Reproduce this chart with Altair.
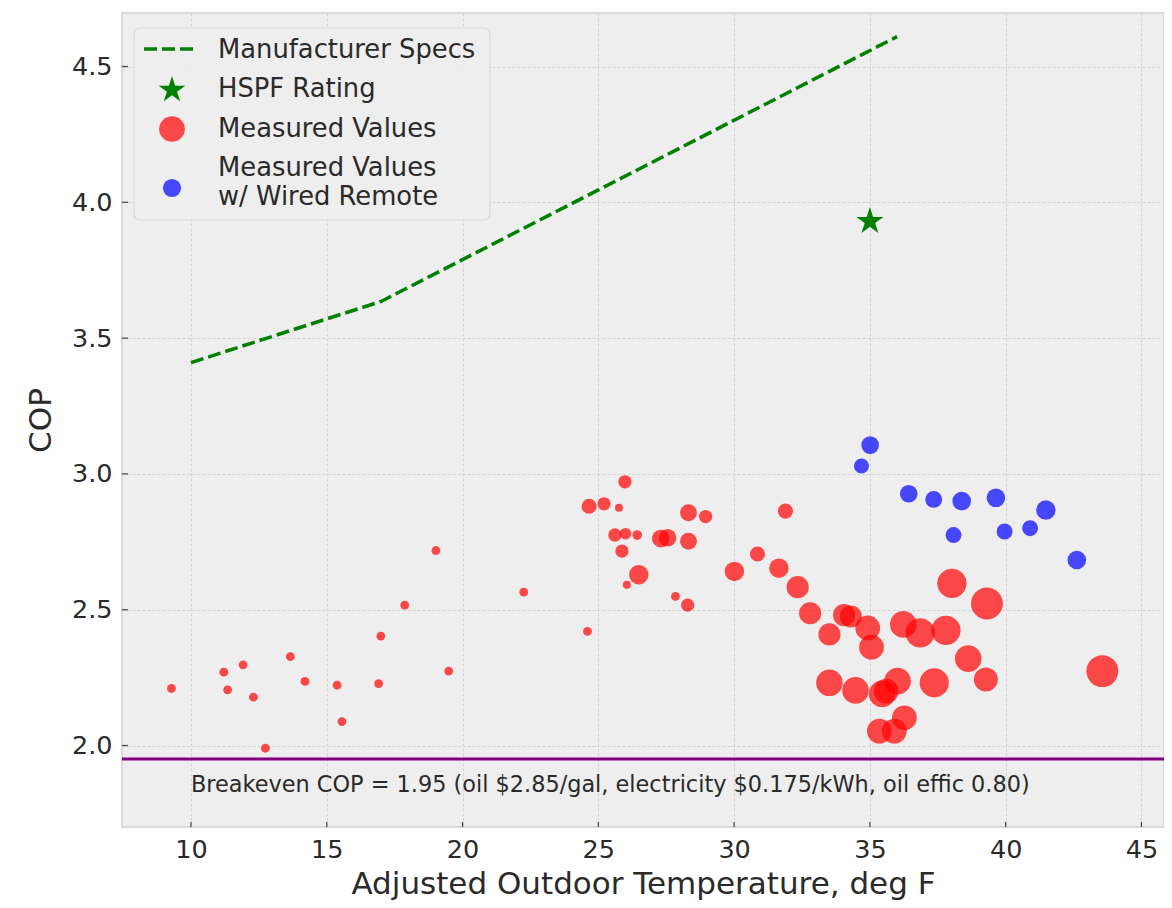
import altair as alt
import pandas as pd

# ---------------- data ----------------
spec_temp = [10, 17, 36]
spec_cop = [3.41, 3.635, 4.61]

hspf_temp = [35.0]
hspf_cop = [3.93]

red_temp = [9.28, 11.21, 11.35, 11.92, 12.30, 12.74, 13.66, 14.20, 15.38, 15.56,
            16.91, 16.99, 17.87, 19.49, 19.02, 22.25, 24.60,
            25.98, 24.66, 25.21, 25.76, 25.61, 26.00, 26.43, 25.87, 26.49, 26.05,
            27.30, 27.55, 28.32, 28.95, 28.32, 27.84, 28.29, 31.89, 30.01, 30.86,
            31.65, 32.34, 32.80, 33.51, 34.05, 34.30, 34.92, 35.06, 36.23, 36.85,
            37.80, 38.02, 39.31, 38.62, 39.27, 33.51, 34.47, 35.45, 35.60, 36.02,
            37.37, 36.27, 35.35, 35.90, 43.56]
red_cop = [2.21, 2.27, 2.205, 2.297, 2.178, 1.99, 2.327, 2.236, 2.222, 2.088,
           2.228, 2.403, 2.517, 2.274, 2.718, 2.565, 2.42,
           2.971, 2.881, 2.89, 2.875, 2.775, 2.78, 2.775, 2.716, 2.629, 2.592,
           2.762, 2.765, 2.857, 2.843, 2.752, 2.549, 2.517, 2.863, 2.641, 2.705,
           2.653, 2.583, 2.487, 2.409, 2.48, 2.475, 2.433, 2.362, 2.446, 2.415,
           2.424, 2.597, 2.523, 2.320, 2.243, 2.231, 2.203, 2.19, 2.20, 2.237,
           2.231, 2.102, 2.053, 2.053, 2.274]
red_size = [78, 78, 78, 78, 78, 78, 78, 78, 78, 78,
            78, 78, 78, 78, 78, 78, 78,
            177, 227, 177, 64, 177, 133, 95, 177, 380, 64,
            314, 314, 284, 177, 284, 78, 177, 227, 380, 227,
            380, 491, 491, 491, 491, 491, 616, 616, 707, 855,
            855, 855, 1018, 707, 573, 707, 707, 707, 616, 707,
            855, 616, 616, 616, 1018]

blue_temp = [35.01, 34.69, 36.43, 37.35, 38.38, 39.64, 41.48, 38.08, 39.96, 40.90, 42.62]
blue_cop = [3.106, 3.029, 2.927, 2.906, 2.90, 2.912, 2.867, 2.775, 2.788, 2.80, 2.683]
blue_size = [314, 227, 314, 284, 346, 346, 380, 254, 254, 254, 346]

breakeven_cop = [1.95]
note_temp = [10]
note_cop = [1.83]
note_text = ["Breakeven COP = 1.95 (oil $2.85/gal, electricity $0.175/kWh, oil effic 0.80)"]

x_ticks = [10, 15, 20, 25, 30, 35, 40, 45]
y_ticks = [2.0, 2.5, 3.0, 3.5, 4.0, 4.5]

legend_labels = ["Manufacturer Specs", "HSPF Rating", "Measured Values",
                 "Measured Values", "w/ Wired Remote"]

# ---------------- styling ----------------
W, H = 1042, 814
FONT = "DejaVu Sans"
TXT = "#2a2a2a"
STAR = ("M0,-1L0.2245,-0.309L0.951,-0.309L0.363,0.118L0.588,0.809L0,0.382"
        "L-0.588,0.809L-0.363,0.118L-0.951,-0.309L-0.2245,-0.309Z")

xs = alt.Scale(domain=[7.46, 45.83], nice=False, zero=False)
ys = alt.Scale(domain=[1.70, 4.697], nice=False, zero=False)
xa = alt.Axis(title="Adjusted Outdoor Temperature, deg F", values=x_ticks, format="d")
ya = alt.Axis(title="COP", values=y_ticks, format=".1f")


def X(f):
    return alt.X(f, type="quantitative", scale=xs, axis=xa)


def Y(f):
    return alt.Y(f, type="quantitative", scale=ys, axis=ya)


spec_df = pd.DataFrame({"t": spec_temp, "cop": spec_cop})
hspf_df = pd.DataFrame({"t": hspf_temp, "cop": hspf_cop})
red_df = pd.DataFrame({"t": red_temp, "cop": red_cop, "s": red_size})
blue_df = pd.DataFrame({"t": blue_temp, "cop": blue_cop, "s": blue_size})
be_df = pd.DataFrame({"cop": breakeven_cop})
note_df = pd.DataFrame({"t": note_temp, "cop": note_cop, "txt": note_text})
xt_df = pd.DataFrame({"t": x_ticks})
yt_df = pd.DataFrame({"cop": y_ticks})
one = pd.DataFrame({"a": [0]})

spec = alt.Chart(spec_df).mark_line(color="green", strokeWidth=3.5, strokeDash=[13, 5]).encode(
    x=X("t"), y=Y("cop"))
be = alt.Chart(be_df).mark_rule(color="purple", strokeWidth=3).encode(y=Y("cop"))
red = alt.Chart(red_df).mark_circle(color="red", opacity=0.7).encode(
    x=X("t"), y=Y("cop"), size=alt.Size("s:Q", scale=None))
blue = alt.Chart(blue_df).mark_circle(color="blue", opacity=0.7).encode(
    x=X("t"), y=Y("cop"), size=alt.Size("s:Q", scale=None))
star = alt.Chart(hspf_df).mark_point(shape=STAR, filled=True, color="green", opacity=1, size=820).encode(
    x=X("t"), y=Y("cop"))
note = alt.Chart(note_df).mark_text(align="left", baseline="alphabetic", font=FONT,
                                    fontSize=22.4, color=TXT).encode(
    x=X("t"), y=Y("cop"), text="txt:N")
xticks = alt.Chart(xt_df).mark_rule(color="#444444", strokeWidth=1.2).encode(
    x=X("t"), y=alt.value(H), y2=alt.value(H - 5))
yticks = alt.Chart(yt_df).mark_rule(color="#444444", strokeWidth=1.2).encode(
    y=Y("cop"), x=alt.value(0), x2=alt.value(6))

# legend (drawn inside the plot, top-left)
leg_box = alt.Chart(one).mark_rect(fill="#eeeeee", stroke="#d8d8d8", strokeWidth=1.2,
                                   cornerRadius=6, opacity=0.95).encode(
    x=alt.value(12), x2=alt.value(368), y=alt.value(15), y2=alt.value(207))
leg_line = alt.Chart(one).mark_rule(color="green", strokeWidth=3.5, strokeDash=[13, 5]).encode(
    x=alt.value(22), x2=alt.value(76), y=alt.value(36))
leg_star = alt.Chart(one).mark_point(shape=STAR, filled=True, color="green", opacity=1, size=780).encode(
    x=alt.value(50), y=alt.value(77))
leg_red = alt.Chart(one).mark_circle(color="red", opacity=0.7, size=660).encode(
    x=alt.value(50), y=alt.value(116))
leg_blue = alt.Chart(one).mark_circle(color="blue", opacity=0.7, size=330).encode(
    x=alt.value(50), y=alt.value(175))
leg_text = []
for lab, yy in zip(legend_labels, [37, 76, 116, 155, 184]):
    leg_text.append(
        alt.Chart(one).mark_text(align="left", baseline="middle", font=FONT, fontSize=25.8,
                                 color=TXT, text=lab).encode(x=alt.value(96), y=alt.value(yy)))

chart = alt.layer(
    spec, be, red, blue, star, note, xticks, yticks,
    leg_box, leg_line, leg_star, leg_red, leg_blue, *leg_text
).properties(
    width=W, height=H,
    padding={"left": 114, "top": 5, "right": 0, "bottom": 75},
    autosize=alt.AutoSizeParams(type="none"),
    background="white",
).configure_view(
    fill="#eeeeee", stroke="#cfcfcf", strokeWidth=1.5
).configure_axis(
    grid=True, gridColor="#d2d2d2", gridDash=[3, 2], gridWidth=1,
    domain=False, ticks=False, tickSize=0,
    labelFont=FONT, labelFontSize=25.5, labelColor=TXT, labelPadding=10,
    titleFont=FONT, titleFontSize=31, titleColor=TXT, titleFontWeight="normal",
).configure_axisX(titlePadding=7).configure_axisY(titlePadding=14)

chart.save("out.html", embed_options={"renderer": "svg", "actions": False})
